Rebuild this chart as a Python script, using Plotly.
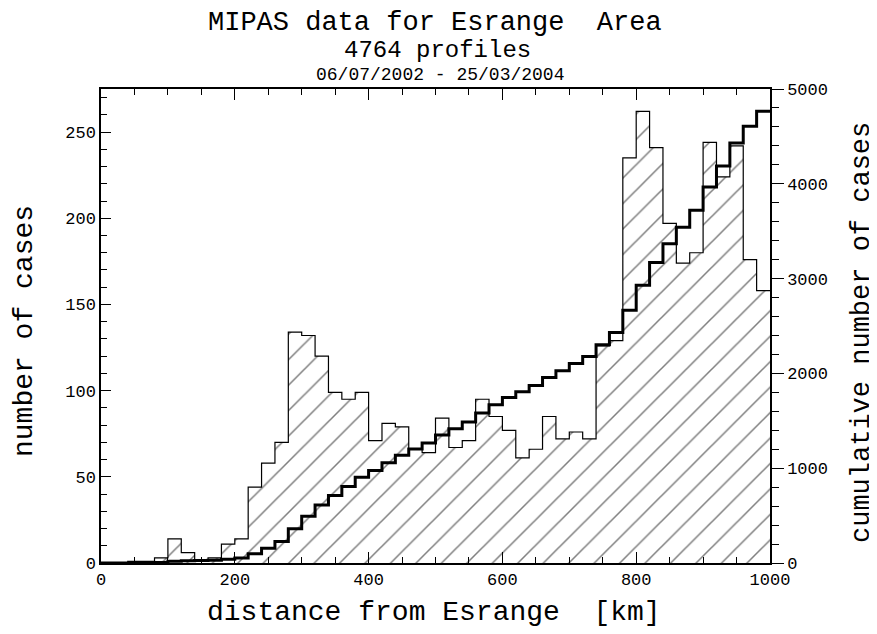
import numpy as np
import plotly.graph_objects as go

# ---- data ----
bin_width_km = 20
bin_start_km = list(range(0, 1000, 20))
counts = [0, 0, 1, 1, 3, 14, 6, 1, 3, 11,
          14, 44, 58, 70, 134, 132, 120, 99, 95, 99,
          71, 81, 79, 66, 64, 84, 67, 71, 95, 85,
          77, 61, 66, 85, 72, 76, 72, 126, 129, 235,
          262, 241, 197, 174, 180, 244, 224, 242, 176, 158]
x_ticks = [0, 200, 400, 600, 800, 1000]
y_ticks = [0, 50, 100, 150, 200, 250]
y2_ticks = [0, 1000, 2000, 3000, 4000, 5000]

title_line1 = "MIPAS data for Esrange  Area"
title_line2 = "4764 profiles"
title_line3 = "06/07/2002 - 25/03/2004"

cumulative = np.cumsum(counts).tolist()
edges = bin_start_km + [bin_start_km[-1] + bin_width_km]

FONT = "Liberation Mono"

fig = go.Figure()

fig.add_trace(go.Bar(
    x=[s + bin_width_km / 2 for s in bin_start_km], y=counts, width=bin_width_km,
    marker=dict(color="white", line=dict(width=0),
                pattern=dict(shape="/", size=18, solidity=0.085,
                             fgcolor="black", bgcolor="white")),
    showlegend=False, hoverinfo="skip"))

fig.add_trace(go.Scatter(
    x=edges, y=counts + [counts[-1]], mode="lines",
    line=dict(shape="hv", color="black", width=1.2),
    showlegend=False, hoverinfo="skip"))

fig.add_trace(go.Scatter(
    x=edges, y=cumulative + [cumulative[-1]], mode="lines", yaxis="y2",
    line=dict(shape="hv", color="black", width=3),
    showlegend=False, hoverinfo="skip"))

tick_font = dict(family=FONT, size=17, color="black")

# page body adds an 8px offset; figure sized so the plot area lands at 101..770 x 89..563
fig.update_layout(
    width=869, height=626,
    margin=dict(l=93, r=107, t=81, b=71),
    paper_bgcolor="white", plot_bgcolor="white",
    bargap=0,
    font=dict(family=FONT, color="black"),
    xaxis=dict(range=[0, 1000], tickvals=x_ticks, ticks="inside", ticklen=11,
               tickwidth=1, tickcolor="black",
               minor=dict(dtick=50, ticks="inside", ticklen=6, tickcolor="black"),
               showline=True, linecolor="black", linewidth=1.5, mirror="ticks",
               showgrid=False, zeroline=False, tickfont=tick_font),
    yaxis=dict(range=[0, 275], tickvals=y_ticks, ticks="inside", ticklen=10,
               tickwidth=1, tickcolor="black",
               minor=dict(dtick=10, ticks="inside", ticklen=6, tickcolor="black"),
               showline=True, linecolor="black", linewidth=1.5, mirror=False,
               showgrid=False, zeroline=False, tickfont=tick_font),
    yaxis2=dict(range=[0, 5000], tickvals=y2_ticks, overlaying="y", side="right",
                ticks="outside", ticklen=12, tickwidth=1, tickcolor="black",
                minor=dict(dtick=200, ticks="outside", ticklen=7, tickcolor="black"),
                showline=True, linecolor="black", linewidth=1.5,
                showgrid=False, zeroline=False, tickfont=tick_font),
)

def px_x(px):
    return (px - 101) / 669.0

def px_y(py):
    return (563 - py) / 474.0

annotations = [
    dict(text=title_line1, x=px_x(435), y=px_y(23), size=27),
    dict(text=title_line2, x=px_x(437), y=px_y(50), size=24),
    dict(text=title_line3, x=px_x(440), y=px_y(75), size=18),
    dict(text="distance from Esrange  [km]", x=px_x(434), y=px_y(612), size=28),
]
for a in annotations:
    fig.add_annotation(text=a["text"], x=a["x"], y=a["y"], xref="paper", yref="paper",
                       showarrow=False, xanchor="center", yanchor="middle",
                       font=dict(family=FONT, size=a["size"], color="black"))

fig.add_annotation(text="number of cases", x=px_x(24), y=px_y(331), xref="paper",
                   yref="paper", showarrow=False, textangle=-90,
                   xanchor="center", yanchor="middle",
                   font=dict(family=FONT, size=28, color="black"))
fig.add_annotation(text="cumulative number of cases", x=px_x(862), y=px_y(333),
                   xref="paper", yref="paper", showarrow=False, textangle=-90,
                   xanchor="center", yanchor="middle",
                   font=dict(family=FONT, size=27, color="black"))

fig.write_html("out.html")
